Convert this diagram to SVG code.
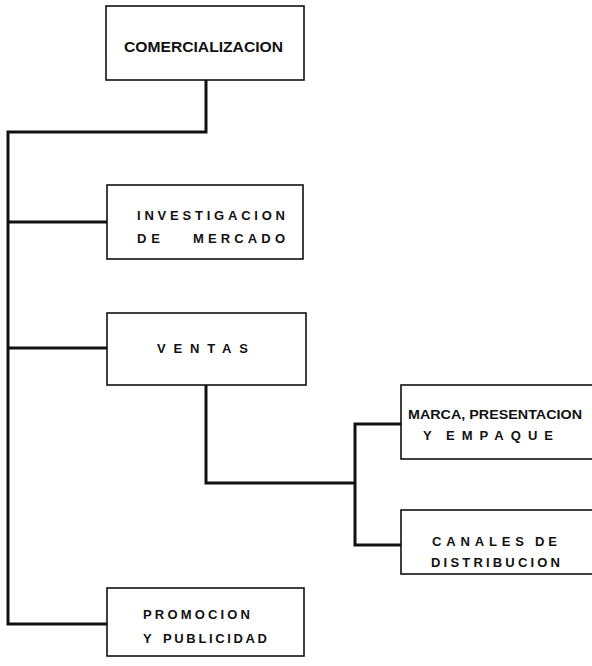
<svg xmlns="http://www.w3.org/2000/svg" width="592" height="666" viewBox="0 0 592 666">
<style>
.box{fill:#fff;stroke:#111;stroke-width:1.6}
.t{font-family:"Liberation Sans",Arial,sans-serif;font-weight:bold;fill:#111}
.c{fill:none;stroke:#111;stroke-width:3;stroke-linejoin:miter}
</style>
<rect width="592" height="666" fill="#fff"/>
<g id="connectors">
<path class="c" d="M206,80 V132 H8 V624 H107"/>
<path class="c" d="M8,222 H107"/>
<path class="c" d="M8,348 H107"/>
<path class="c" d="M206,385 V483 H355"/>
<path class="c" d="M401,424 H355 V545 H401"/>
</g>
<g id="comercializacion">
<rect class="box" x="106" y="6" width="198" height="74"/>
<text class="t" x="124" y="52" font-size="15.5" textLength="159" lengthAdjust="spacingAndGlyphs">COMERCIALIZACION</text>
</g>
<g id="investigacion">
<rect class="box" x="107" y="185" width="196" height="74"/>
<text class="t" x="137" y="220" font-size="13" textLength="148" lengthAdjust="spacing">INVESTIGACION</text>
<text class="t" x="137" y="243" font-size="13" textLength="23" lengthAdjust="spacing">DE</text>
<text class="t" x="193" y="243" font-size="13" textLength="92" lengthAdjust="spacing">MERCADO</text>
</g>
<g id="ventas">
<rect class="box" x="107" y="313" width="199" height="72"/>
<text class="t" x="157" y="353" font-size="13" textLength="91" lengthAdjust="spacing">VENTAS</text>
</g>
<g id="marca">
<rect class="box" x="401" y="385" width="200" height="74"/>
<text class="t" x="408" y="419" font-size="13" textLength="174" lengthAdjust="spacingAndGlyphs">MARCA, PRESENTACION</text>
<text class="t" x="423" y="440" font-size="13">Y</text>
<text class="t" x="446" y="440" font-size="13" textLength="107" lengthAdjust="spacing">EMPAQUE</text>
</g>
<g id="canales">
<rect class="box" x="401" y="510" width="200" height="64"/>
<text class="t" x="432" y="546" font-size="13" textLength="92" lengthAdjust="spacing">CANALES</text>
<text class="t" x="535" y="546" font-size="13" textLength="22" lengthAdjust="spacing">DE</text>
<text class="t" x="431" y="567" font-size="13" textLength="129" lengthAdjust="spacing">DISTRIBUCION</text>
</g>
<g id="promocion">
<rect class="box" x="107" y="588" width="197" height="68"/>
<text class="t" x="143" y="619" font-size="13" textLength="107" lengthAdjust="spacing">PROMOCION</text>
<text class="t" x="143" y="643" font-size="13">Y</text>
<text class="t" x="163" y="643" font-size="13" textLength="104" lengthAdjust="spacing">PUBLICIDAD</text>
</g>
</svg>
